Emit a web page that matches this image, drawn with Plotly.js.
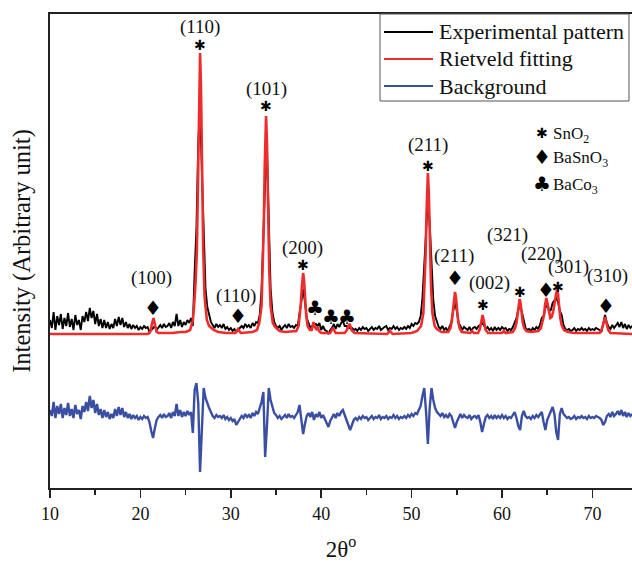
<!DOCTYPE html>
<html>
<head>
<meta charset="utf-8">
<script src="https://cdn.plot.ly/plotly-3.0.1.min.js"></script>
<style>html,body{margin:0;padding:0;background:#fff;}#chart{width:632px;height:564px;}</style>
</head>
<body>
<div id="chart"></div>
<script>
// ---- Data (intensity in arbitrary units) ----
// Experimental pattern and background/difference: sampled from 2θ = 10.0 every 0.2°
const scanStart = 10.0;
const scanStep = 0.2;
const experimental = [
  168,160,176,158,172,163,174,159,170,162, // 10
  175,161,169,158,173,163,168,158,172,166, // 12
  176,167,180,170,177,164,174,162,169,160, // 14
  168,160,166,159,164,160,169,162,171,163, // 16
  170,161,166,160,164,159,163,160,162,158, // 18
  161,159,162,160,161,156,158,160,162,158, // 20
  161,163,160,164,161,162,165,160,166,162, // 22
  174,162,168,161,166,163,168,165,170,162, // 24
  216,260,345,381,318,250,200,181,172,166, // 26
  163,160,164,161,163,160,164,159,161,158, // 28
  160,157,159,156,158,160,162,160,164,161, // 30
  163,160,165,162,166,165,173,198,266,307, // 32
  338,270,200,176,166,162,160,162,158,161, // 34
  163,160,164,161,162,160,163,162,176,190, // 36
  199,186,170,165,160,162,164,164,162,165, // 38
  158,162,158,157,154,158,160,164,159,164, // 40
  161,165,167,162,162,160,160,160,158,159, // 42
  157,160,158,161,159,160,157,159,161,158, // 44
  160,159,162,158,160,161,162,158,160,159, // 46
  162,159,161,158,160,159,161,159,162,160, // 48
  164,162,165,164,166,172,190,220,261,289, // 50
  265,220,188,172,165,161,159,162,158,160, // 52
  157,161,166,177,186,177,165,162,158,161, // 54
  159,158,161,157,160,161,159,162,163,165, // 56
  163,159,161,158,160,157,161,158,160,158, // 58
  161,159,160,157,159,158,161,165,170,178, // 60
  182,176,166,160,158,159,157,160,158,161, // 62
  159,163,170,172,180,184,177,178,185,188, // 64
  190,186,177,173,163,159,158,159,157,158, // 66
  160,157,159,158,160,158,159,157,160,158, // 68
  159,158,160,159,158,156,164,173,165,161, // 70
  159,163,160,162,165,161,166,160,164,159, // 72
  163,160,162                              // 74
];
const background = [
  78,72,86,70,82,74,84,70,80,73,
  85,72,79,70,83,74,78,69,82,76,
  86,77,92,80,88,75,84,73,79,70,
  78,71,76,69,74,70,79,72,81,73,
  80,71,76,70,74,69,73,70,72,68,
  71,69,72,70,71,66,57,50,60,68,
  71,73,70,74,71,72,75,70,76,72,
  84,72,78,71,76,72,77,73,76,55,
  98,105,85,16,58,100,90,84,80,76,
  72,70,73,71,72,70,73,69,71,68,
  70,67,69,63,66,70,72,70,74,71,
  73,70,75,72,76,74,79,86,96,31,
  62,100,88,80,75,73,70,72,69,71,
  73,70,74,71,72,70,73,76,83,70,
  54,64,72,75,71,76,68,74,71,76,
  70,73,69,66,61,67,71,74,70,75,
  72,76,78,72,68,63,58,63,68,70,
  68,71,69,72,70,71,68,70,72,69,
  71,70,73,69,71,70,72,69,71,70,
  73,70,72,69,71,70,72,70,73,71,
  74,72,75,74,78,82,92,100,76,44,
  80,100,88,80,76,74,72,75,71,73,
  70,74,72,66,60,66,71,74,70,73,
  71,70,73,69,71,72,70,73,66,56,
  64,71,73,70,72,69,73,70,72,70,
  73,70,72,69,71,70,73,76,70,62,
  58,72,77,72,70,71,69,72,70,73,
  71,74,76,66,58,68,73,78,81,74,
  56,48,74,80,74,72,70,71,69,70,
  72,69,71,70,72,70,71,69,72,70,
  71,70,72,71,70,68,63,66,72,74,
  71,76,72,74,77,73,78,72,76,71,
  75,72,74
];
// Rietveld fit
const fitTheta = [10.0,20.8,21.0,21.15,21.25,21.35,21.45,21.55,21.65,21.8,22.0,23.5,24.5,25.0,25.5,25.8,25.95,26.1,26.25,26.35,26.45,26.5,26.6,26.7,26.75,26.85,26.95,27.1,27.35,27.6,28.1,28.6,29.5,30.5,30.8,31.1,32.4,32.9,33.15,33.4,33.55,33.65,33.75,33.8,33.9,34.0,34.05,34.15,34.25,34.4,34.65,34.9,35.4,36.0,37.25,37.5,37.65,37.75,37.85,37.9,38.0,38.1,38.15,38.25,38.35,38.5,38.75,38.95,39.05,39.15,39.3,39.45,39.6,39.75,40.0,41.0,41.3,41.6,42.6,42.85,43.0,43.15,43.35,43.7,47.3,47.6,47.9,50.0,50.6,51.05,51.3,51.45,51.55,51.65,51.7,51.8,51.9,51.95,52.05,52.15,52.3,52.55,52.8,53.3,54.05,54.3,54.45,54.55,54.65,54.7,54.8,54.9,54.95,55.05,55.15,55.3,55.55,56.5,56.7,56.9,57.35,57.55,57.7,57.8,57.85,57.95,58.05,58.2,58.45,60.0,60.2,60.4,61.2,61.45,61.6,61.7,61.8,61.85,61.95,62.05,62.1,62.2,62.3,62.45,62.7,63.2,64.0,64.3,64.5,64.65,64.75,64.8,64.9,65.0,65.1,65.2,65.35,65.5,65.65,65.8,65.9,66.0,66.1,66.2,66.25,66.35,66.45,66.6,66.85,67.3,68.0,70.8,71.0,71.15,71.25,71.4,71.5,71.6,71.75,72.0,74.4];
const fitIntensity = [154,154,155,158,163,168,170,166,160,156,155,155,156,156,158,168,184,205,238,294,368,401,435,401,368,294,238,191,168,162,158,156,155,155,159,155,156,158,165,182,219,263,320,346,372,346,320,263,219,182,165,161,157,156,157,162,172,184,200,208,215,208,200,184,172,162,158,158,161,166,161,159,161,157,155,155,160,155,155,158,162,164,158,155,154,157,154,155,157,162,175,202,234,276,296,315,296,276,234,202,175,162,159,156,156,160,167,175,186,191,196,191,186,175,167,160,156,155,157,155,155,159,165,170,173,169,163,158,155,155,157,155,156,160,165,172,181,185,189,185,181,172,165,160,157,156,157,160,166,173,182,186,190,186,180,174,170,171,176,184,191,195,198,194,188,178,170,163,158,156,155,155,158,162,167,171,167,162,158,155,154];

// Reflection labels (hkl) and phase markers
const hklText = ["(110)","(101)","(211)","(200)","(100)","(110)","(211)","(002)","(321)","(220)","(301)","(310)"];
const hklTheta = [26.6, 34.0, 51.8, 37.9, 21.25, 30.6, 54.7, 58.6, 60.6, 64.4, 67.3, 71.7];
const hklLevel = [461, 399, 343, 240, 210, 192, 232, 205, 253, 234, 221, 212];
const markText = ["✱","✱","✱","✱","♦","♦","♣","♣","♣","♦","✱","✱","♦","✱","♦"];
const markTheta = [26.6, 33.9, 51.8, 38.0, 21.4, 30.76, 39.3, 41.05, 42.9, 54.8, 57.9, 62.0, 64.85, 66.2, 71.5];
const markLevel = [443, 382, 322, 223, 180, 172, 180, 171, 171, 210, 183, 196, 198, 201, 182];
const phaseSymbols = ["✱","♦","♣"];
const phaseNames = ["SnO<sub>2</sub>","BaSnO<sub>3</sub>","BaCo<sub>3</sub>"];
const seriesNames = ["Experimental pattern","Rietveld fitting","Background"];
const xTicks = [10,20,30,40,50,60,70];

// ---- Styling ----
const serif = "Liberation Serif, Times New Roman, serif";
const symFont = "DejaVu Sans, sans-serif";
const cBlack = "#000000", cRed = "#ee2c2c", cBlue = "#3a4fa3";
const symSize = s => (s === "✱" ? 14 : 20);

const traces = [
  {type:"scatter", mode:"lines", name:seriesNames[2], x0:scanStart, dx:scanStep, y:background,
   line:{color:cBlue, width:2.4}, showlegend:false, hoverinfo:"skip"},
  {type:"scatter", mode:"lines", name:seriesNames[0], x0:scanStart, dx:scanStep, y:experimental,
   line:{color:cBlack, width:1.9}, showlegend:false, hoverinfo:"skip"},
  {type:"scatter", mode:"lines", name:seriesNames[1], x:fitTheta, y:fitIntensity,
   line:{color:cRed, width:2.6}, showlegend:false, hoverinfo:"skip"}
];

const annotations = [];
hklText.forEach((t,i)=>annotations.push({x:hklTheta[i], y:hklLevel[i], xref:"x", yref:"y", text:t,
  showarrow:false, xanchor:"center", yanchor:"middle", font:{family:serif, size:19, color:"#111"}}));
markText.forEach((t,i)=>annotations.push({x:markTheta[i], y:markLevel[i], xref:"x", yref:"y", text:t,
  showarrow:false, xanchor:"center", yanchor:"middle", font:{family:symFont, size:symSize(t), color:"#000"}}));
// phase key
const keyY = [355, 331, 304];
phaseSymbols.forEach((s,i)=>{
  annotations.push({x:64.42, y:keyY[i], xref:"x", yref:"y", text:s, showarrow:false, xanchor:"center", yanchor:"middle",
    font:{family:symFont, size:symSize(s), color:"#000"}});
  annotations.push({x:65.45, y:keyY[i]-2, xref:"x", yref:"y", text:phaseNames[i], showarrow:false, xanchor:"left", yanchor:"middle",
    font:{family:serif, size:17, color:"#111"}});
});
// series key (legend box)
const W = 582, H = 474;
const px = v => (v-50)/W, py = v => (488-v)/H;
const shapes = [
  {type:"rect", xref:"paper", yref:"paper", x0:px(380), x1:px(629), y0:py(101), y1:py(14),
   line:{color:"#555", width:1}, fillcolor:"#fff", layer:"above"}
];
const rowY = [32, 59, 86];
const rowCol = [cBlack, cRed, cBlue];
rowY.forEach((r,i)=>{
  shapes.push({type:"line", xref:"paper", yref:"paper", x0:px(384), x1:px(433), y0:py(r), y1:py(r),
    line:{color:rowCol[i], width:2.2}, layer:"above"});
  annotations.push({xref:"paper", yref:"paper", x:px(437), y:py(r), text:seriesNames[i], showarrow:false,
    xanchor:"left", yanchor:"middle", font:{family:serif, size:22, color:"#111"}});
});

const layout = {
  width:632, height:564,
  margin:{l:50, r:0, t:14, b:76},
  paper_bgcolor:"#fff", plot_bgcolor:"#fff",
  showlegend:false,
  xaxis:{range:[10, 74.38], tickvals:xTicks, ticks:"outside", ticklen:8, tickwidth:1.5, tickcolor:"#222",
    minor:{dtick:5, tick0:5, ticks:"outside", ticklen:5, tickwidth:1.5, tickcolor:"#222", showgrid:false},
    showline:true, linecolor:"#222", linewidth:2, mirror:true, showgrid:false, zeroline:false,
    tickfont:{family:serif, size:18, color:"#111"},
    title:{text:"2θ<sup>o</sup>", font:{family:serif, size:23, color:"#111"}, standoff:18}},
  yaxis:{range:[0, 474], showticklabels:false, ticks:"", showline:true, linecolor:"#222", linewidth:2,
    showgrid:false, zeroline:false,
    title:{text:"Intensity (Arbitrary unit)", font:{family:serif, size:24.5, color:"#111"}, standoff:10}},
  annotations:annotations,
  shapes:shapes
};

Plotly.newPlot("chart", traces, layout, {staticPlot:true, displayModeBar:false});
</script>
</body>
</html>
